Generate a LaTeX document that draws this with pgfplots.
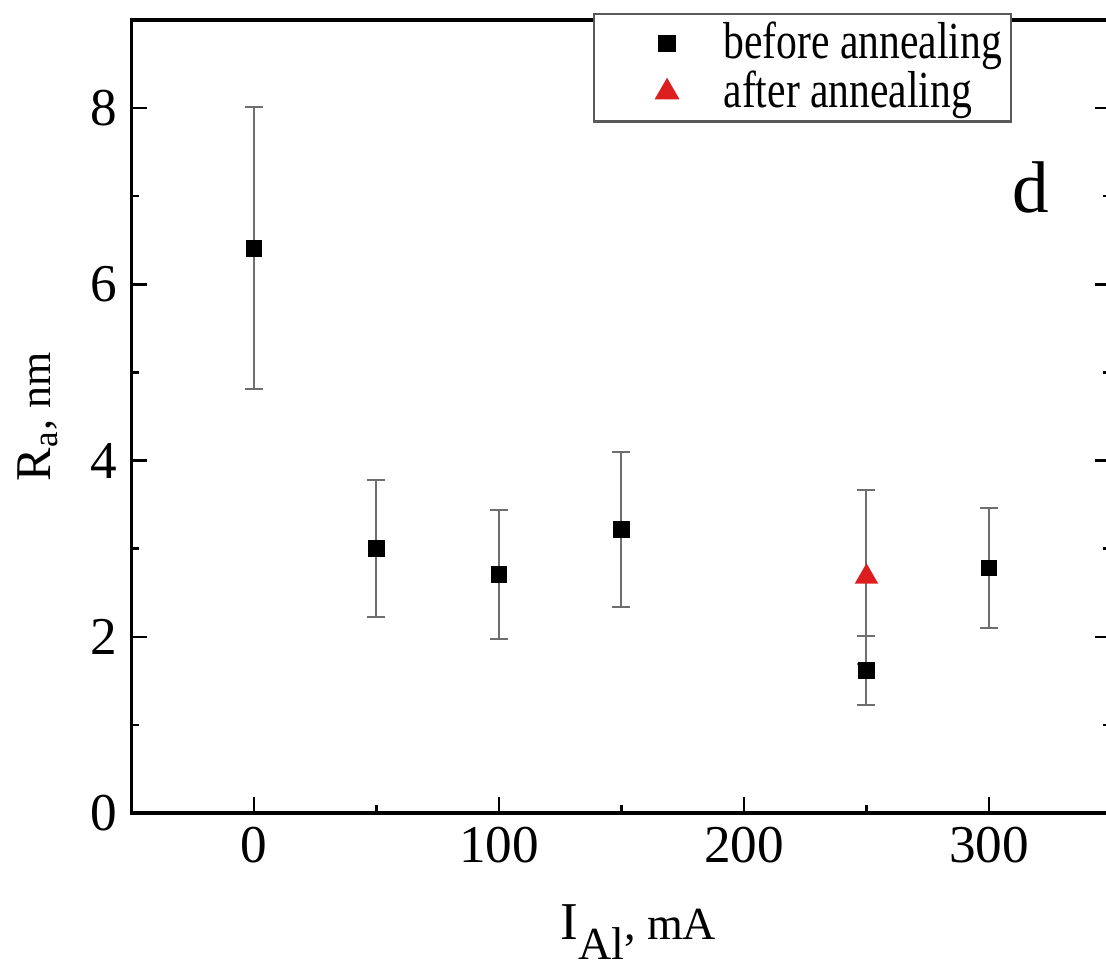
\documentclass[border=0pt]{standalone}
\usepackage{pgfplots}
\pgfplotsset{compat=1.18}
\usepackage{fontspec}
\setmainfont{Liberation Serif}
\newfontfamily\legfont{Liberation Serif}[FakeStretch=0.8]
\definecolor{myred}{RGB}{220,30,30}
\definecolor{ebar}{RGB}{110,110,110}
\begin{document}
\begin{tikzpicture}
\useasboundingbox (-32.875pt,-39.75pt) rectangle (243.625pt,203.25pt);
\begin{axis}[
  at={(0,0)}, anchor=south west,
  scale only axis, width=245pt, height=198.25pt,
  xmin=-50, xmax=350, ymin=0, ymax=9,
  xtick={0,100,200,300}, ytick={0,2,4,6,8},
  minor x tick num=1, minor y tick num=1,
  tick align=inside, xtick pos=bottom, ytick pos=both, yticklabel pos=left,
  major tick length=4pt, minor tick length=2pt,
  axis line style={line width=0.8pt}, every tick/.style={black, line width=0.6pt},
  /pgf/number format/assume math mode=true,
  tick label style={font=\fontsize{13.3}{15}\selectfont},
  xlabel={{\fontsize{13.3}{15}\selectfont I}\raisebox{-5pt}{\fontsize{11.5}{12}\selectfont Al}{\fontsize{11.5}{12}\selectfont, mA}},
  xlabel style={at={(axis description cs:0.517,-0.160)}, anchor=base},
  ylabel={{\fontsize{12.5}{14}\selectfont R\textsubscript{a}}{\fontsize{11}{13}\selectfont, nm}},
  ylabel style={at={(axis description cs:-0.0955,0.5)}, anchor=center},
  legend image code/.code={%
    \path (0pt,0pt) (29.45pt,0pt);
    \draw[#1] plot coordinates {(17.6pt,0pt)};},
  legend style={at={(axis description cs:0.471,1.0088)}, anchor=north west,
    draw=gray!70!black, line width=0.6pt, font=\legfont\fontsize{13}{14}\selectfont,
    row sep=-2.5pt, inner xsep=0.3pt, inner ysep=0pt},
  legend cell align=left,
  error bars/error bar style={ebar, line width=0.5pt},
  error bars/error mark options={ebar, line width=0.5pt, mark size=2.25pt, rotate=90},
]
\addplot+[only marks, mark=square*, mark size=1.9pt, black, mark options={fill=black},
  error bars/.cd, y dir=both, y explicit]
  coordinates {
  (0,6.41) +- (0,1.60)
  (50,3.00) +- (0,0.78)
  (100,2.71) +- (0,0.73)
  (150,3.22) +- (0,0.88)
  (250,1.62) +- (0,0.39)
  (300,2.78) +- (0,0.68)
  };
\addlegendentry{before annealing}
\addplot+[only marks, mark=triangle*, mark size=3pt, myred, mark options={fill=myred, draw=myred},
  error bars/.cd, y dir=both, y explicit]
  coordinates {
  (250,2.68) +- (0,0.99)
  };
\addlegendentry{after annealing}
\node[font=\fontsize{18.3}{20}\selectfont, anchor=base] at (axis cs:317,6.82) {d};
\end{axis}
\end{tikzpicture}
\end{document}
